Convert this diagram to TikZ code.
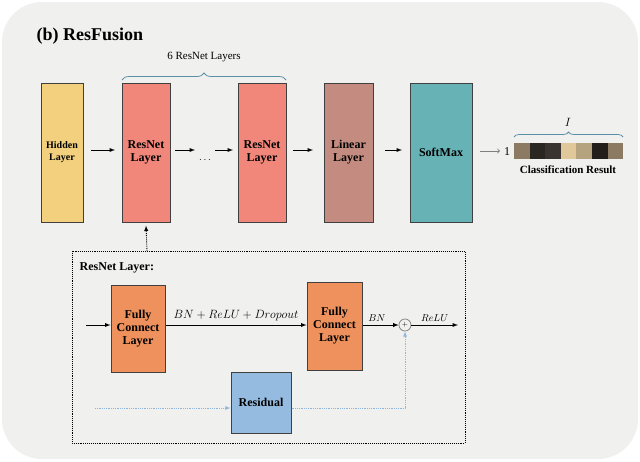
\documentclass[tikz,border=0pt]{standalone}
\usepackage{fontspec}
\setmainfont{Liberation Serif}
\usetikzlibrary{decorations.pathreplacing}
\definecolor{bgGray}{HTML}{F0F0EE}
\definecolor{hidCol}{HTML}{F2D07E}
\definecolor{resCol}{HTML}{F0877A}
\definecolor{linCol}{HTML}{C48C80}
\definecolor{smCol}{HTML}{66B2B5}
\definecolor{fcCol}{HTML}{EE915C}
\definecolor{rsdCol}{HTML}{95BCE0}
\definecolor{skipCol}{HTML}{8FB6DE}
\definecolor{braceCol}{HTML}{5A8FA8}
\tikzset{every picture/.style={line width=0.75pt}}
\tikzset{
  layer/.style={draw=black!75, line width=1pt, font=\bfseries\fontsize{12}{13}\selectfont, align=center, inner sep=0pt},
  flow/.style={-latex, line width=0.9pt},
  skip/.style={-latex, densely dotted, draw=skipCol, line width=0.8pt},
}

\begin{document}
\begin{tikzpicture}[x=1pt, y=-1pt]
          % Background and frame:
          \useasboundingbox (0,0) rectangle (640,461);
          \fill[bgGray, rounded corners=40pt] (2,2) rectangle (638,459);
          \node[anchor=west, font=\bfseries\fontsize{18}{20}\selectfont] (title) at (33,36){(b) ResFusion};
          % Top row of layers:
          \node[layer, fill=hidCol, minimum width=42pt, minimum height=139pt, font=\bfseries\fontsize{10}{12}\selectfont] (hid) at (62,152.5){Hidden\\Layer};
          \node[layer, fill=resCol, minimum width=48pt, minimum height=139pt] (res1) at (146,152.5){ResNet\\Layer};
          \node[layer, fill=resCol, minimum width=48pt, minimum height=139pt] (res2) at (262,152.5){ResNet\\Layer};
          \node[layer, fill=linCol, minimum width=49pt, minimum height=139pt] (lin) at (348.5,152.5){Linear\\Layer};
          \node[layer, fill=smCol, minimum width=62pt, minimum height=139pt] (soft) at (441,152.5){SoftMax};
          \node[font=\bfseries] (dots) at (205,160){$\cdots$};
          \coordinate (d1) at (175,150);
          \coordinate (d2) at (195,150);
          \coordinate (d3) at (215,150);
          \coordinate (d4) at (233,150);
          \draw[flow] (91,150) -- (115,150);
          \draw[flow] (d1) -- (d2);
          \draw[flow] (d3) -- (d4);
          \draw[flow] (293,150) -- (313,150);
          \draw[flow] (385,150) -- (402,150);
          \draw[->, gray, line width=0.9pt] (480,151) -- (500,151);
          \node[font=\large] (one) at (507,152){1};
          % Classification bar:
          \foreach \c [count=\i] in {8C7B62,2A2622,3A3430,E0C89A,B5A27E,231E1A,8C7B62}{
            \definecolor{seg}{HTML}{\c}
            \fill[seg] ({514+(\i-1)*15.6},143) rectangle ({514+\i*15.6},159);
          }
          \draw[braceCol, decorate, decoration={brace, amplitude=5pt}] (514,137) -- (623,137);
          \node[font=\large\itshape] (ilab) at (568,122){$I$};
          \node[font=\bfseries\fontsize{11}{12}\selectfont] (cls) at (568,170){Classification Result};
          \draw[braceCol, decorate, decoration={brace, amplitude=7pt}] (122,80) -- (286,80);
          \node[font=\fontsize{11}{12}\selectfont] (six) at (204,57){6 ResNet Layers};
          % ResNet layer detail:
          \draw[densely dotted, line width=0.9pt] (72,251) rectangle (465,443);
          \draw[densely dotted, line width=0.9pt, -latex] (147,251) -- ([yshift=-3pt]res1.south);
          \node[anchor=west, font=\bfseries\fontsize{12}{13}\selectfont] (rlab) at (76,268){ResNet Layer:};
          \node[layer, fill=fcCol, minimum width=54pt, minimum height=87pt] (fc1) at (138,328.5){Fully\\Connect\\Layer};
          \node[layer, fill=fcCol, minimum width=55pt, minimum height=88pt] (fc2) at (334.5,326){Fully\\Connect\\Layer};
          \node[layer, fill=rsdCol, minimum width=60pt, minimum height=61pt] (rsd) at (261,402.5){Residual};
          \node[draw=gray, circle, minimum size=12pt, inner sep=0pt, font=\scriptsize] (sum) at (405,325){$+$};
          \coordinate (inL) at (86,325);
          \coordinate (outR) at (458,325);
          \coordinate (skipL) at (95,408);
          \draw[flow] (inL) -- (fc1.west |- inL);
          \draw[flow] (fc1.east |- inL) -- node[above, font=\large]{$BN + ReLU + Dropout$} (fc2.west |- inL);
          \draw[flow] (fc2.east |- sum) -- node[above, pos=0.4]{$BN$} (sum);
          \draw[flow] (sum) -- node[above]{$ReLU$} (outR);
          \draw[skip] (skipL) -- (rsd.west |- skipL);
          \draw[skip] (rsd.east |- skipL) -| (sum.south);
        \end{tikzpicture}
\end{document}
